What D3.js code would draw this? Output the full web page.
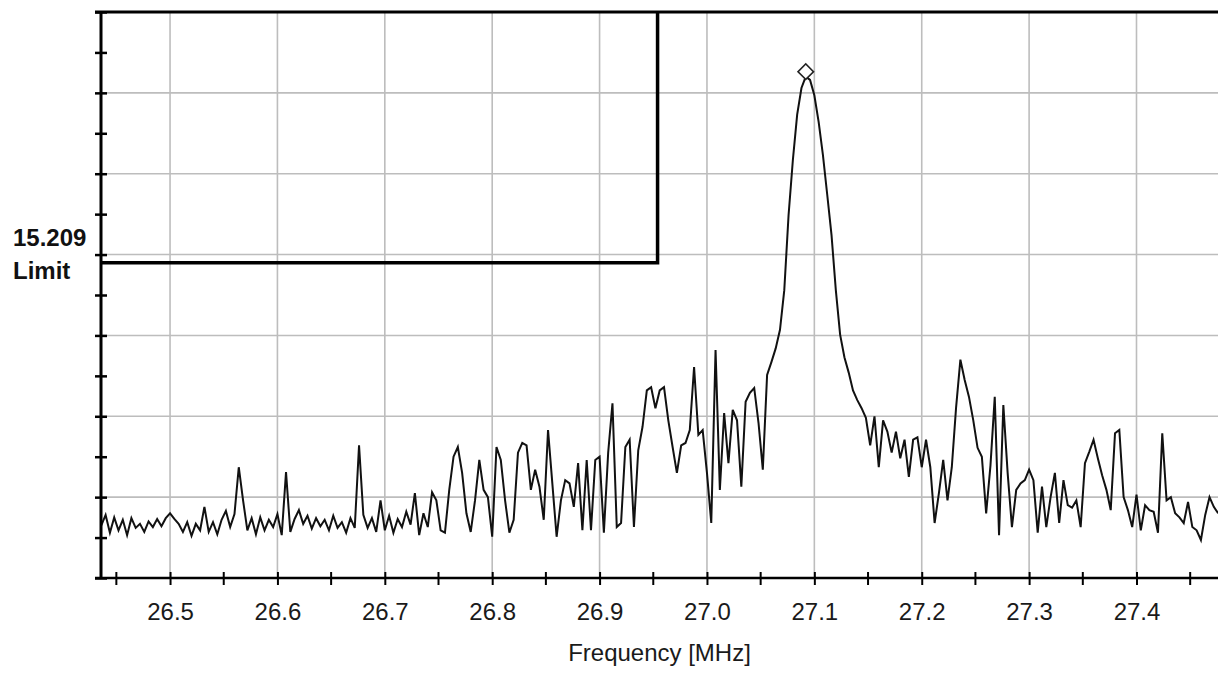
<!DOCTYPE html>
<html>
<head>
<meta charset="utf-8">
<script src="https://cdn.jsdelivr.net/npm/d3@7"></script>
<style>
  body { margin: 0; background: #fff; }
  svg { display: block; font-family: Arial, "Liberation Sans", sans-serif; }
</style>
</head>
<body>
<div id="chart"></div>
<script>
// ─── Data ───
// sweep: first point + spacing in MHz
const sweepStart = 26.436;
const sweepStep = 0.004;

// trace level per sweep point (dBuV/m, estimated)
const levels = [
  6.5, 7.8, 5.6, 7.5, 5.9, 7.2, 5.3, 7.4, 6.2, 6.7,
  5.7, 7.0, 6.3, 7.3, 6.4, 7.4, 8.0, 7.3, 6.7, 5.7,
  6.9, 5.2, 6.7, 5.9, 8.8, 5.7, 6.9, 5.4, 7.2, 8.3,
  6.3, 7.9, 13.7, 9.6, 5.9, 7.4, 5.4, 7.5, 5.9, 7.2,
  6.3, 7.9, 5.3, 13.1, 5.7, 7.3, 8.4, 6.7, 7.7, 6.1,
  7.4, 6.4, 7.2, 5.9, 7.7, 6.2, 6.9, 5.6, 7.4, 6.2,
  16.4, 7.8, 6.2, 7.4, 5.7, 9.6, 5.9, 7.7, 5.6, 7.3,
  6.3, 8.2, 6.6, 10.5, 5.3, 8.0, 6.3, 10.6, 9.6, 5.9,
  5.6, 10.9, 15.0, 16.2, 13.0, 8.0, 5.7, 9.6, 14.6, 10.9,
  10.0, 5.1, 16.2, 14.6, 9.6, 5.6, 7.2, 15.5, 16.7, 16.4,
  10.9, 13.4, 11.3, 7.2, 18.3, 11.7, 5.1, 9.6, 12.1, 11.7,
  8.8, 14.2, 5.9, 14.6, 5.9, 14.6, 15.0, 5.6, 15.5, 21.6,
  6.3, 6.8, 16.2, 17.1, 6.3, 15.8, 18.7, 23.2, 23.6, 21.0,
  23.2, 23.6, 19.5, 16.2, 13.0, 16.4, 16.7, 18.3, 26.1, 17.7,
  18.3, 13.0, 6.8, 28.2, 10.9, 20.4, 14.2, 20.8, 19.5, 11.3,
  21.8, 22.9, 23.5, 19.2, 13.4, 25.1, 26.7, 28.4, 30.7, 35.6,
  44.9, 51.7, 57.3, 60.6, 62.0, 61.6, 59.7, 56.4, 52.3, 47.4,
  42.4, 35.6, 30.1, 27.3, 25.4, 23.2, 22.0, 21.0, 19.8, 16.4,
  20.0, 13.7, 19.5, 18.1, 15.5, 18.1, 14.8, 17.1, 12.5, 17.1,
  17.4, 13.7, 17.1, 13.7, 6.8, 10.5, 14.6, 9.6, 13.7, 21.1,
  27.0, 24.5, 22.4, 19.5, 16.1, 15.0, 8.0, 13.9, 22.4, 5.3,
  21.4, 13.0, 6.3, 10.9, 11.7, 12.1, 13.4, 12.1, 5.6, 11.3,
  6.3, 10.0, 13.0, 6.8, 12.1, 9.0, 8.7, 9.6, 6.3, 14.2,
  15.6, 17.1, 14.8, 12.7, 10.9, 8.4, 17.9, 18.3, 10.0, 8.4,
  6.3, 10.3, 5.9, 9.0, 8.4, 8.2, 5.6, 17.9, 9.6, 10.0,
  8.0, 7.5, 6.8, 9.4, 6.3, 5.9, 4.7, 7.8, 10.0, 8.8, 8.0,
];

// 15.209 limit box: level and the frequency where it stops
const limitLevel = 39;
const limitEndFreq = 26.954;

const freqLabels = [26.5, 26.6, 26.7, 26.8, 26.9, 27.0, 27.1, 27.2, 27.3, 27.4];
const freqMinor = [26.45, 26.55, 26.65, 26.75, 26.85, 26.95, 27.05, 27.15, 27.25, 27.35, 27.45];
const levelTicks = [0, 5, 10, 15, 20, 25, 30, 35, 40, 45, 50, 55, 60, 65, 70];
const levelGrid = [10, 20, 30, 40, 50, 60];

const trace = levels.map((v, i) => ({ f: sweepStart + i * sweepStep, v }));

// ─── Layout ───
const W = 1218, H = 675;
const plot = { left: 101, top: 12, right: 1218, bottom: 578 };

const svg = d3.select("#chart").append("svg")
  .attr("width", W)
  .attr("height", H);

const x = d3.scaleLinear().domain([26.4357, 27.4759]).range([plot.left, plot.right]);
const y = d3.scaleLinear().domain([0, 70]).range([plot.bottom, plot.top]);

svg.append("clipPath").attr("id", "clip")
  .append("rect")
  .attr("x", plot.left).attr("y", plot.top)
  .attr("width", plot.right - plot.left).attr("height", plot.bottom - plot.top);

// ─── Grid ───
const grid = svg.append("g").attr("stroke", "#bdbdbd").attr("stroke-width", 1.6);
grid.selectAll(".gx").data(freqLabels).join("line")
  .attr("x1", d => x(d)).attr("x2", d => x(d))
  .attr("y1", plot.top).attr("y2", plot.bottom);
grid.selectAll(".gy").data(levelGrid).join("line")
  .attr("x1", plot.left).attr("x2", plot.right)
  .attr("y1", d => y(d)).attr("y2", d => y(d));

// ─── Trace ───
const body = svg.append("g").attr("clip-path", "url(#clip)");
body.append("path")
  .datum(trace)
  .attr("fill", "none")
  .attr("stroke", "#111")
  .attr("stroke-width", 2)
  .attr("d", d3.line().x(d => x(d.f)).y(d => y(d.v)));

// peak marker (diamond just above the max point)
const peak = d3.greatest(trace, d => d.v);
body.append("path")
  .attr("d", d3.symbol(d3.symbolSquare, 120)())
  .attr("transform", `translate(${x(peak.f)},${y(peak.v) - 5}) rotate(45)`)
  .attr("fill", "#fff")
  .attr("stroke", "#222")
  .attr("stroke-width", 1.6);

// ─── Limit box ───
body.append("path")
  .attr("fill", "none")
  .attr("stroke", "#000")
  .attr("stroke-width", 3.5)
  .attr("d", d3.line()([
    [x.range()[0], y(limitLevel)],
    [x(limitEndFreq), y(limitLevel)],
    [x(limitEndFreq), y(70)],
  ]));

// ─── Axes ───
const xAxis = svg.append("g")
  .attr("transform", `translate(0,${plot.bottom})`)
  .call(d3.axisBottom(x).tickValues(freqLabels).tickSize(7).tickPadding(18)
    .tickFormat(d3.format(".1f")));
xAxis.select(".domain").remove();
xAxis.selectAll(".tick line").attr("y1", -6).attr("stroke-width", 2);
xAxis.selectAll("text")
  .style("font-size", "24px")
  .style("fill", "#1a1a1a");

svg.append("g")
  .attr("stroke", "#000").attr("stroke-width", 2)
  .selectAll("line").data(freqMinor).join("line")
  .attr("x1", d => x(d)).attr("x2", d => x(d))
  .attr("y1", plot.bottom - 6).attr("y2", plot.bottom + 7);

const yAxis = svg.append("g")
  .attr("transform", `translate(${plot.left},0)`)
  .call(d3.axisLeft(y).tickValues(levelTicks).tickSize(6).tickFormat(""));
yAxis.select(".domain").remove();
yAxis.selectAll(".tick line").attr("x2", 6).attr("x1", -6).attr("stroke-width", 2.5);

// frame lines: left, bottom, top
svg.append("line")
  .attr("x1", plot.left).attr("x2", plot.left)
  .attr("y1", plot.top).attr("y2", plot.bottom)
  .attr("stroke", "#000").attr("stroke-width", 3);
svg.append("line")
  .attr("x1", plot.left - 6).attr("x2", plot.right)
  .attr("y1", plot.bottom).attr("y2", plot.bottom)
  .attr("stroke", "#000").attr("stroke-width", 2.5);
svg.append("line")
  .attr("x1", plot.left - 6).attr("x2", plot.right)
  .attr("y1", plot.top).attr("y2", plot.top)
  .attr("stroke", "#000").attr("stroke-width", 3);

// ─── Labels ───
svg.append("text")
  .attr("x", (plot.left + plot.right) / 2)
  .attr("y", 661)
  .attr("text-anchor", "middle")
  .style("font-size", "24px")
  .style("fill", "#1a1a1a")
  .text("Frequency [MHz]");

const limitLabel = svg.append("text")
  .attr("x", 13)
  .style("font-size", "24px")
  .style("font-weight", "bold")
  .style("fill", "#111");
limitLabel.append("tspan").attr("x", 13).attr("y", 246).text("15.209");
limitLabel.append("tspan").attr("x", 13).attr("y", 279).text("Limit");
</script>
</body>
</html>
